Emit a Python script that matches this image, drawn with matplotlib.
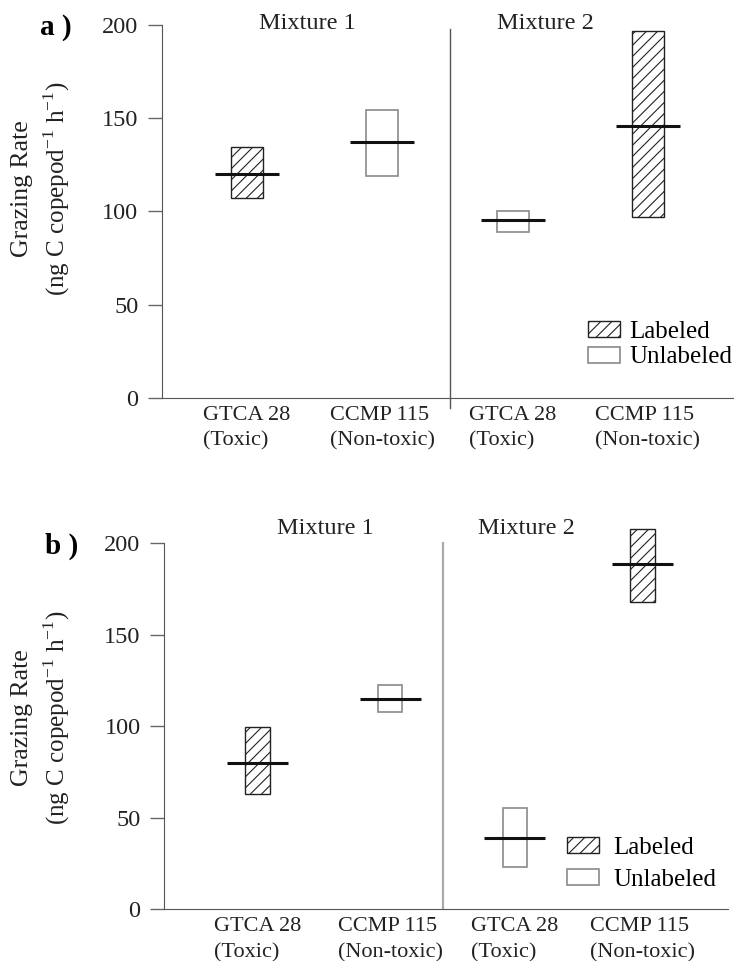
import numpy as np
import matplotlib
matplotlib.use("Agg")
import matplotlib.pyplot as plt
from matplotlib.patches import Patch

plt.rcParams['font.family'] = ['Liberation Serif', 'DejaVu Serif']
plt.rcParams['mathtext.fontset'] = 'custom'
plt.rcParams['mathtext.rm'] = 'Liberation Serif'
plt.rcParams['hatch.linewidth'] = 0.8

# data
strains = ["GTCA 28\n(Toxic)", "CCMP 115\n(Non-toxic)", "GTCA 28\n(Toxic)", "CCMP 115\n(Non-toxic)"]
labeled = [True, False, False, True]

a_low = [107, 119, 89, 97]
a_high = [134.5, 154.5, 100, 197]
a_mid = [120, 137, 95.5, 146]

b_low = [63, 107.5, 23, 168]
b_high = [99.5, 122.5, 55, 207.5]
b_mid = [80, 115, 39, 188.5]

yticks = [0, 50, 100, 150, 200]

fig = plt.figure(figsize=(7.36, 9.61), dpi=100)
ax_a = fig.add_axes([0.220, 0.586, 0.776, 0.388])
ax_b = fig.add_axes([0.223, 0.054, 0.766, 0.381])


def draw_panel(ax, low, high, mid, pos, xmax, box_w, line_w, mix_x, mix_y):
    low = np.array(low)
    high = np.array(high)
    for i in range(len(pos)):
        if labeled[i]:
            ax.bar(pos[i], high[i] - low[i], bottom=low[i], width=box_w, facecolor='white',
                   edgecolor='#222222', hatch='///', linewidth=1.0, clip_on=False, zorder=2)
        else:
            ax.bar(pos[i], high[i] - low[i], bottom=low[i], width=box_w, facecolor='white',
                   edgecolor='#8a8a8a', linewidth=1.2, clip_on=False, zorder=2)
    pos = np.array(pos)
    ax.hlines(mid, pos - line_w / 2, pos + line_w / 2, color='#111111', lw=2.2, zorder=3, clip_on=False)

    ax.set_xlim(0, xmax)
    ax.set_ylim(0, 200)
    ax.set_yticks(yticks)
    ax.set_xticks(pos)
    ax.set_xticklabels(strains, fontsize=16, linespacing=1.45, color='#222222')
    ax.tick_params(axis='x', length=0, pad=6)
    ax.tick_params(axis='y', direction='out', length=10, width=1, labelsize=17.5, pad=7,
                   color='#666666', labelcolor='#222222')
    for lbl in ax.get_xticklabels():
        lbl.set_multialignment('left')
    for s in ['top', 'right']:
        ax.spines[s].set_visible(False)
    ax.spines['left'].set_color('#555555')
    ax.spines['bottom'].set_color('#555555')

    ax.text(mix_x[0], mix_y, "Mixture 1", fontsize=17.5, ha='center', va='center',
            transform=ax.transData, clip_on=False, color='#222222')
    ax.text(mix_x[1], mix_y, "Mixture 2", fontsize=17.5, ha='center', va='center',
            transform=ax.transData, clip_on=False, color='#222222')

    handles = [Patch(facecolor='white', edgecolor='#222222', hatch='///', lw=1.0),
               Patch(facecolor='white', edgecolor='#8a8a8a', lw=1.2)]
    return handles


h = draw_panel(ax_a, a_low, a_high, a_mid, [0.63, 1.63, 2.6, 3.6], 4.23,
               0.23, 0.47, [1.08, 2.84], 201)
ax_a.axvline(2.13, ymin=-0.027, ymax=0.99, color='#555555', lw=1.0, clip_on=False)
ax_a.legend(h, ["Labeled", "Unlabeled"], loc='lower right', bbox_to_anchor=(1.03, 0.032),
            frameon=False, fontsize=18, handlelength=1.25, handleheight=0.6,
            handletextpad=0.4, labelspacing=0.15, borderpad=0.2)

h = draw_panel(ax_b, b_low, b_high, b_mid, [0.72, 1.74, 2.7, 3.68], 4.34,
               0.19, 0.47, [1.24, 2.79], 208)
ax_b.axvline(2.15, ymin=0, ymax=1.0, color='#aaaaaa', lw=1.6, clip_on=False)
ax_b.spines['left'].set_bounds(0, 200)
ax_b.legend(h, ["Labeled", "Unlabeled"], loc='lower right', bbox_to_anchor=(1.011, 0.002),
            frameon=False, fontsize=18, handlelength=1.25, handleheight=0.6,
            handletextpad=0.6, labelspacing=0.4, borderpad=0.2)

# panel letters and y-axis labels
fig.text(0.054, 0.971, "a )", fontsize=21, fontweight='bold', ha='left', va='center')
fig.text(0.061, 0.431, "b )", fontsize=21, fontweight='bold', ha='left', va='center')

for yc in [0.804, 0.253]:
    fig.text(0.030, yc, "Grazing Rate", rotation=90, fontsize=18.5, ha='center', va='center',
             color='#222222')
    fig.text(0.077, yc, r"(ng C copepod$^{\mathregular{-1}}$ h$^{\mathregular{-1}}$)", rotation=90,
             fontsize=18, ha='center', va='center', color='#222222')

fig.savefig("out.png", dpi=100, facecolor='white')
